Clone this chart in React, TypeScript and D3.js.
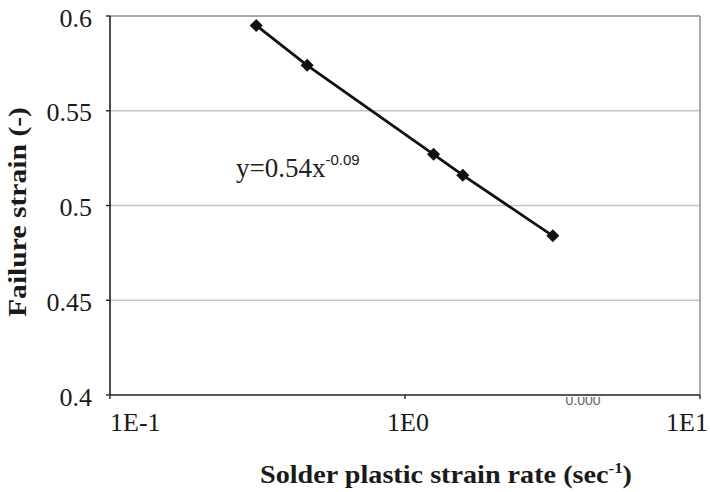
import React from "react";
import * as d3 from "d3";

// Measured failure strain versus solder plastic strain rate
const strainRate = [0.313, 0.466, 1.25, 1.57, 3.17];
const failureStrain = [0.595, 0.574, 0.527, 0.516, 0.484];
const yTicks = [0.4, 0.45, 0.5, 0.55, 0.6];
const xTicks = [0.1, 1, 10];
const xTickLabels = ["1E-1", "1E0", "1E1"];
const fitLabel = "y=0.54x";
const fitExponent = "-0.09";

const W = 710;
const H = 492;
const plot = { left: 110, top: 16, right: 700, bottom: 395 };

export default function App() {
  const x = d3.scaleLog().domain([0.1, 10]).range([plot.left, plot.right]);
  const y = d3.scaleLinear().domain([0.4, 0.6]).range([plot.bottom, plot.top]);

  const pts: [number, number][] = strainRate.map((r, i) => [x(r), y(failureStrain[i])]);
  const line = d3.line<[number, number]>()(pts) || "";
  // square rotated 45° gives an even diamond marker
  const marker = d3.symbol().type(d3.symbolSquare).size(85)() || "";

  const serif = "'Liberation Serif', 'Times New Roman', serif";
  const sans = "'Liberation Sans', Arial, sans-serif";

  return (
    <svg
      width={W}
      height={H}
      style={{ position: "absolute", left: 0, top: 0, background: "#fff" }}
    >
      <defs>
        <clipPath id="belowAxis">
          <rect x={plot.left} y={plot.bottom + 2} width={plot.right - plot.left} height={20} />
        </clipPath>
      </defs>

      {/* horizontal gridlines */}
      {yTicks.slice(1).map((t) => (
        <line
          key={t}
          x1={plot.left}
          x2={plot.right}
          y1={y(t)}
          y2={y(t)}
          stroke={t === 0.6 ? "#8c8c8c" : "#c4c4c4"}
          strokeWidth={t === 0.6 ? 1.5 : 1.3}
        />
      ))}
      {/* right border */}
      <line x1={plot.right} x2={plot.right} y1={plot.top} y2={plot.bottom} stroke="#8c8c8c" strokeWidth={1.5} />

      {/* axes */}
      <line x1={plot.left} x2={plot.left} y1={plot.top} y2={plot.bottom} stroke="#222" strokeWidth={1.6} />
      <line x1={plot.left} x2={plot.right} y1={plot.bottom} y2={plot.bottom} stroke="#222" strokeWidth={1.6} />

      {/* y ticks */}
      {yTicks.map((t) => (
        <g key={t}>
          <line x1={plot.left - 4} x2={plot.left} y1={y(t)} y2={y(t)} stroke="#222" strokeWidth={1.4} />
          <text
            x={92}
            y={y(t) + 2}
            textAnchor="end"
            dominantBaseline="central"
            fontFamily={serif}
            fontSize={26}
            fill="#1a1a1a"
          >
            {t}
          </text>
        </g>
      ))}

      {/* x ticks */}
      {xTicks.map((t, i) => (
        <g key={t}>
          <line x1={x(t)} x2={x(t)} y1={plot.bottom} y2={plot.bottom + 4} stroke="#222" strokeWidth={1.4} />
          <text
            x={i === 0 ? x(t) : i === 1 ? x(t) + 3 : x(t) + 8}
            y={431}
            textAnchor={i === 0 ? "start" : i === 1 ? "middle" : "end"}
            fontFamily={serif}
            fontSize={26}
            fill="#1a1a1a"
          >
            {xTickLabels[i]}
          </text>
        </g>
      ))}

      {/* clipped stray label under the axis */}
      <text
        x={583}
        y={405}
        textAnchor="middle"
        fontFamily={sans}
        fontSize={14}
        fill="#666"
        clipPath="url(#belowAxis)"
      >
        0.000
      </text>

      {/* data line and markers */}
      <path d={line} fill="none" stroke="#111" strokeWidth={2.8} />
      {pts.map(([px, py], i) => (
        <path key={i} d={marker} transform={`translate(${px},${py}) rotate(45)`} fill="#111" />
      ))}

      {/* fit equation */}
      <text x={236} y={177} fontFamily={serif} fontSize={27} fill="#222">
        {fitLabel}
        <tspan fontFamily={sans} fontSize={15} dy={-12}>
          {fitExponent}
        </tspan>
      </text>

      {/* axis titles */}
      <text
        x={446}
        y={483}
        textAnchor="middle"
        fontFamily={serif}
        fontWeight="bold"
        fontSize={25}
        fill="#1a1a1a"
        textLength={372}
        lengthAdjust="spacingAndGlyphs"
      >
        Solder plastic strain rate (sec
        <tspan fontSize={15} dy={-10}>-1</tspan>
        <tspan dy={10}>)</tspan>
      </text>
      <text
        transform={`translate(26, 212) rotate(-90)`}
        textAnchor="middle"
        fontFamily={serif}
        fontWeight="bold"
        fontSize={25}
        fill="#1a1a1a"
        textLength={210}
        lengthAdjust="spacingAndGlyphs"
      >
        Failure strain (-)
      </text>
    </svg>
  );
}
